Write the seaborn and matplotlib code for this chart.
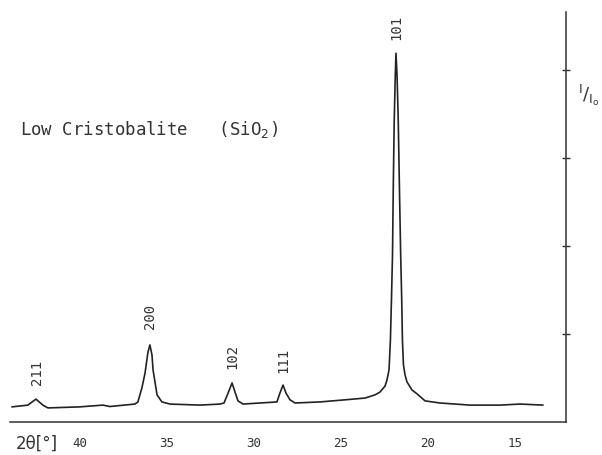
import numpy as np
import pandas as pd
import matplotlib
matplotlib.use("Agg")
import matplotlib.pyplot as plt
import seaborn as sns

# 2theta (deg) and relative intensity, high angle -> low angle
two_theta = [43.91, 42.99, 42.53, 42.13, 41.84, 40.00, 38.68, 38.28, 36.84, 36.67,
             36.44, 36.26, 36.09, 35.98, 35.86, 35.80, 35.57, 35.29, 34.83, 33.10,
             31.95, 31.72, 31.49, 31.26, 31.09, 30.92, 30.63, 29.66, 28.68, 28.51,
             28.33, 28.16, 27.93, 27.64, 26.21, 24.77, 23.62, 23.05, 22.76, 22.47,
             22.36, 22.24, 22.16, 22.10, 22.04, 21.99, 21.94, 21.88, 21.84, 21.78,
             21.71, 21.65, 21.57, 21.51, 21.47, 21.41, 21.32, 21.21, 20.92, 20.63,
             20.17, 19.31, 17.59, 15.86, 14.71, 13.39]
intensity = [4.3, 4.8, 6.5, 4.8, 4.0, 4.3, 4.8, 4.4, 5.1, 5.7,
             9.7, 13.9, 19.9, 21.9, 19.0, 14.8, 7.7, 5.7, 5.1, 4.8,
             5.1, 5.4, 8.2, 11.1, 8.5, 6.0, 5.1, 5.4, 5.7, 8.2,
             10.5, 8.2, 6.3, 5.4, 5.7, 6.3, 6.8, 7.7, 8.5, 10.2,
             11.9, 14.8, 23.3, 34.7, 47.4, 68.8, 85.8, 98.6, 104.8, 98.6,
             85.8, 68.8, 47.4, 34.7, 23.3, 16.2, 13.4, 11.4, 9.1, 8.0,
             6.0, 5.4, 4.8, 4.8, 5.1, 4.8]

# Miller indices of the labelled reflections
hkl_labels = ["211", "200", "102", "111", "101"]
hkl_pos = [42.45, 35.98, 31.26, 28.33, 21.84]
hkl_label_y = [14.2, 30.1, 18.5, 17.6, 112.0]

x_ticks = [40, 35, 30, 25, 20, 15]
y_ticks = [25, 50, 75, 100]

sns.set_style("white")
plt.rcParams["font.family"] = ["DejaVu Sans Mono", "DejaVu Sans"]
plt.rcParams["mathtext.fontset"] = "dejavusans"

fig = plt.figure(figsize=(6.02, 4.55), dpi=100)
ax = fig.add_axes([10 / 602, 33 / 455, 556 / 602, 410 / 455])

df = pd.DataFrame({"two_theta": two_theta, "intensity": intensity})
sns.lineplot(data=df, x="two_theta", y="intensity", color="#222222",
             linewidth=1.2, ax=ax)

ax.set_xlim(44.02, 12.07)
ax.set_ylim(0, 116.5)

for side in ["left", "top"]:
    ax.spines[side].set_visible(False)
for side in ["bottom", "right"]:
    ax.spines[side].set_color("#333333")
    ax.spines[side].set_linewidth(1.1)

ax.set_xticks(x_ticks)
ax.set_xticklabels([str(t) for t in x_ticks])
ax.set_yticks(y_ticks)
ax.yaxis.tick_right()
ax.tick_params(axis="x", direction="inout", length=6, width=1, colors="#333333",
               labelsize=9, pad=8)
ax.tick_params(axis="y", direction="inout", length=6, width=1, colors="#333333",
               labelright=False)
ax.set_xlabel("")
ax.set_ylabel("")

for lab, xp, yp in zip(hkl_labels, hkl_pos, hkl_label_y):
    ax.text(xp, yp, lab, rotation=90, ha="center", va="center",
            fontsize=10, color="#333333")

ax.text(43.45, 83.0, "Low Cristobalite   (SiO$_2$)", ha="left", va="center",
        fontsize=12.5, color="#333333")

fig.text(16 / 602, 1 - 444 / 455, "2θ[°]", ha="left", va="center",
         fontsize=12, color="#333333", family="DejaVu Sans")
fig.text(578 / 602, 1 - 95 / 455, r"$^{\mathrm{I}}/_{\mathrm{I_o}}$",
         ha="left", va="center", fontsize=13, color="#333333")

fig.savefig("out.png", dpi=100)
